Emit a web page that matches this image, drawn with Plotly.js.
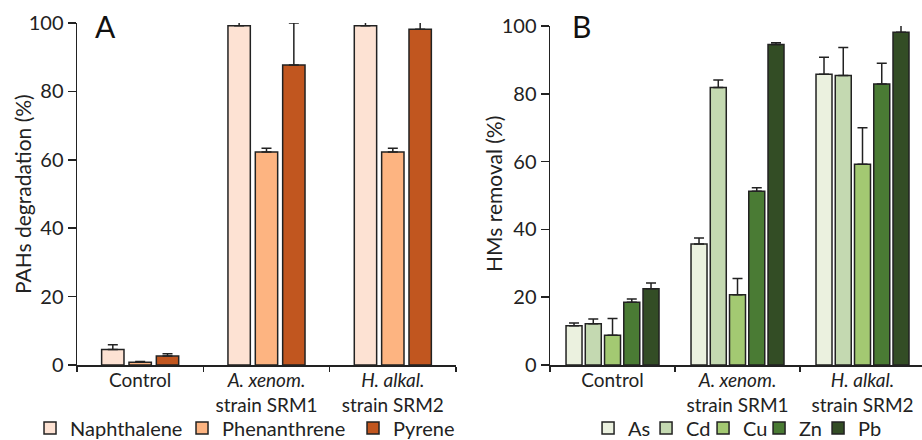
<!DOCTYPE html>
<html>
<head>
<meta charset="utf-8">
<script src="https://cdn.plot.ly/plotly-3.0.1.min.js"></script>
<style>html,body{margin:0;padding:0;background:#fff;}#chart{width:922px;height:440px;}</style>
</head>
<body>
<div id="chart"></div>
<script>
// ---- data ----
const categories = ["Control", "<i>A. xenom.</i><br>strain SRM1", "<i>H. alkal.</i><br>strain SRM2"];
const pahNames = ["Naphthalene", "Phenanthrene", "Pyrene"];
const naphthalene = [4.5, 99.2, 99.2];
const naphthaleneErr = [1.4, 1.5, 1.5];
const phenanthrene = [0.8, 62.3, 62.3];
const phenanthreneErr = [0.2, 1.1, 1.1];
const pyrene = [2.6, 87.7, 98.2];
const pyreneErr = [0.7, 12.3, 2.4];

const hmNames = ["As", "Cd", "Cu", "Zn", "Pb"];
const asVals = [11.6, 35.7, 85.8];
const asErr = [0.8, 1.8, 5.0];
const cdVals = [12.2, 81.9, 85.4];
const cdErr = [1.4, 2.2, 8.3];
const cuVals = [8.8, 20.7, 59.2];
const cuErr = [4.9, 4.8, 10.8];
const znVals = [18.5, 51.3, 82.9];
const znErr = [1.0, 1.0, 6.1];
const pbVals = [22.5, 94.6, 98.2];
const pbErr = [1.7, 0.5, 2.1];

const yTicks = [0, 20, 40, 60, 80, 100];
const titleA = "PAHs degradation (%)";
const titleB = "HMs removal (%)";

// ---- styles ----
const pahColors = ["#FDE2D3", "#FDB481", "#C1561F"];
const pahLegendWidths = [107, 126, 75];
const hmColors = ["#EBF1DF", "#C4D9B1", "#A3C972", "#4A7B34", "#334D25"];
const hmLegendWidths = [13, 12, 11, 14, 32];
const FONT = "Lato, 'Open Sans', sans-serif";
const INK = "#222";

function mkBar(name, vals, errs, color, idx, n, slot, bw, xa, ya, legend, lw) {
  return {
    type: "bar", name: name, x: categories, y: vals,
    xaxis: xa, yaxis: ya, legend: legend, legendwidth: lw,
    width: bw,
    offset: (idx - (n - 1) / 2) * slot - bw / 2,
    marker: {color: color, line: {color: INK, width: 1.5}},
    error_y: {type: "data", symmetric: false, array: errs, arrayminus: errs.map(() => 0),
              color: INK, thickness: 1.5, width: 5},
    hoverinfo: "skip"
  };
}

const pahVals = [naphthalene, phenanthrene, pyrene];
const pahErrs = [naphthaleneErr, phenanthreneErr, pyreneErr];
const hmVals = [asVals, cdVals, cuVals, znVals, pbVals];
const hmErrs = [asErr, cdErr, cuErr, znErr, pbErr];

const traces = [];
pahNames.forEach((nm, i) => traces.push(mkBar(nm, pahVals[i], pahErrs[i], pahColors[i], i, 3, 0.2165, 0.177, "x", "y", "legend", pahLegendWidths[i])));
hmNames.forEach((nm, i) => traces.push(mkBar(nm, hmVals[i], hmErrs[i], hmColors[i], i, 5, 0.154, 0.128, "x2", "y2", "legend2", hmLegendWidths[i])));

const xCommon = {
  type: "category", tickson: "boundaries", ticks: "outside", ticklen: 5, tickwidth: 1.5,
  tickcolor: INK, showline: true, linecolor: INK, linewidth: 1.5, showgrid: false,
  zeroline: false, fixedrange: true, ticklabelstandoff: -2,
  tickfont: {family: FONT, size: 19, color: INK}
};
const yCommon = {
  range: [0, 100], tickvals: yTicks, ticks: "outside", ticklen: 8, tickwidth: 1.5,
  tickcolor: INK, showline: true, linecolor: INK, linewidth: 1.5, showgrid: false,
  zeroline: false, fixedrange: true,
  tickfont: {family: FONT, size: 20, color: INK}
};

const titleFont = {family: FONT, size: 21, color: INK};

const layout = {
  width: 922, height: 440,
  margin: {l: 77, r: 0, t: 23, b: 75, autoexpand: false},
  paper_bgcolor: "#fff", plot_bgcolor: "#fff",
  barmode: "group",
  showlegend: true,
  font: {family: FONT, color: INK},
  xaxis: Object.assign({}, xCommon, {domain: [0, 0.4485], range: [-0.5, 2.5], anchor: "y"}),
  yaxis: Object.assign({}, yCommon, {domain: [0, 1], anchor: "x"}),
  xaxis2: Object.assign({}, xCommon, {domain: [0.5598, 1], range: [-0.5, 2.476], anchor: "y2"}),
  yaxis2: Object.assign({}, yCommon, {domain: [0, 0.991], anchor: "x2"}),
  legend: {orientation: "h", x: -0.0556, xanchor: "left", y: -0.184, yanchor: "middle",
    font: {family: FONT, size: 20, color: INK}, bgcolor: "rgba(0,0,0,0)", itemclick: false, itemdoubleclick: false},
  legend2: {orientation: "h", x: 0.6048, xanchor: "left", y: -0.184, yanchor: "middle",
    font: {family: FONT, size: 20, color: INK}, bgcolor: "rgba(0,0,0,0)", itemclick: false, itemdoubleclick: false},
  annotations: [
    {text: titleA, xref: "paper", yref: "paper", x: -0.0651, y: 0.5, xanchor: "center", yanchor: "middle",
     textangle: -90, showarrow: false, font: titleFont},
    {text: titleB, xref: "paper", yref: "paper", x: 0.4923, y: 0.5, xanchor: "center", yanchor: "middle",
     textangle: -90, showarrow: false, font: titleFont},
    {text: "A", xref: "paper", yref: "paper", x: 0.019, y: 0.99, xanchor: "left", yanchor: "middle",
     showarrow: false, font: {family: FONT, size: 30, color: "#111"}},
    {text: "B", xref: "paper", yref: "paper", x: 0.584, y: 0.99, xanchor: "left", yanchor: "middle",
     showarrow: false, font: {family: FONT, size: 30, color: "#111"}}
  ]
};

Plotly.newPlot("chart", traces, layout, {displayModeBar: false, staticPlot: true});
</script>
</body>
</html>
